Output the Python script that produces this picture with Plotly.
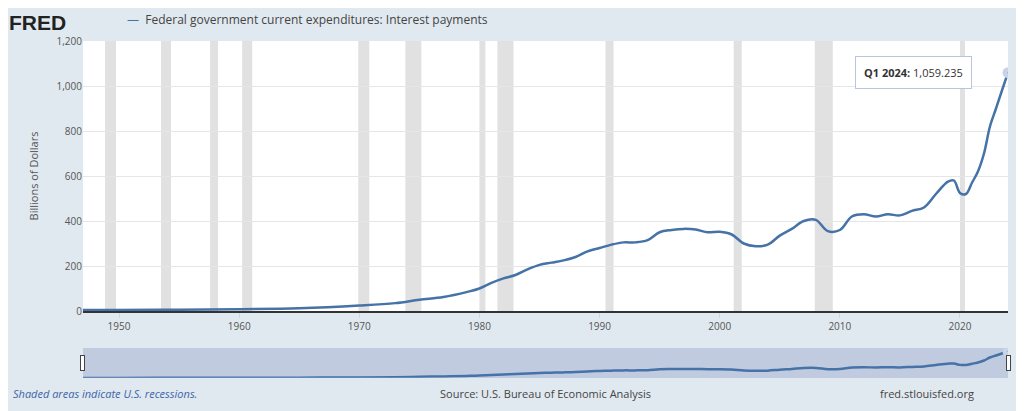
import plotly.graph_objects as go

# annual readings (billions of dollars), last point Q1 2024
dates = ["1947-01-01", "1950-01-01", "1955-01-01", "1960-01-01", "1965-01-01", "1970-01-01",
         "1973-01-01", "1975-01-01", "1977-01-01", "1979-01-01", "1980-01-01", "1981-01-01",
         "1982-01-01", "1983-01-01", "1984-01-01", "1985-01-01", "1986-01-01", "1987-01-01",
         "1988-01-01", "1989-01-01", "1990-01-01", "1991-01-01", "1992-01-01", "1993-01-01",
         "1994-01-01", "1995-01-01", "1996-01-01", "1997-01-01", "1998-01-01", "1999-01-01",
         "2000-01-01", "2001-01-01", "2002-01-01", "2003-01-01", "2004-01-01", "2005-01-01",
         "2006-01-01", "2007-01-01", "2008-01-01", "2009-01-01", "2010-01-01", "2011-01-01",
         "2012-01-01", "2013-01-01", "2014-01-01", "2015-01-01", "2016-01-01", "2017-01-01",
         "2018-01-01", "2019-01-01", "2019-07-01", "2020-01-01", "2020-07-01", "2021-01-01",
         "2021-07-01", "2022-01-01", "2022-07-01", "2023-01-01", "2023-07-01", "2024-01-01"]
values = [4, 4.5, 5.5, 8, 12, 24,
          35, 50, 62, 85, 100, 125,
          145, 160, 185, 205, 215, 225,
          240, 265, 280, 295, 305, 305,
          315, 350, 360, 365, 362, 350,
          352, 340, 300, 288, 295, 335,
          365, 400, 405, 355, 360, 420,
          430, 420, 430, 425, 445, 460,
          520, 575, 580, 525, 520, 570,
          620, 700, 820, 900, 980, 1059.235]

recessions = [("1948-11-01", "1949-10-01"), ("1953-07-01", "1954-05-01"), ("1957-08-01", "1958-04-01"),
              ("1960-04-01", "1961-02-01"), ("1969-12-01", "1970-11-01"), ("1973-11-01", "1975-03-01"),
              ("1980-01-01", "1980-07-01"), ("1981-07-01", "1982-11-01"), ("1990-07-01", "1991-03-01"),
              ("2001-03-01", "2001-11-01"), ("2007-12-01", "2009-06-01"), ("2020-01-01", "2020-06-01")]

fig = go.Figure()
fig.add_trace(go.Scatter(x=dates, y=values, mode="lines", line=dict(color="#4572a7", width=2.5),
                         line_shape="spline", showlegend=False))
fig.add_trace(go.Scatter(x=[dates[-1]], y=[values[-1]], mode="markers",
                         marker=dict(color="#4572a7", size=5, line=dict(color="#c8d3e6", width=6)),
                         showlegend=False))

for a, b in recessions:
    fig.add_vrect(x0=a, x1=b, fillcolor="#e1e1e1", line_width=0, layer="below")

fig.add_annotation(x=dates[-1], y=values[-1], xshift=-95, yshift=0,
                   text="<b>Q1 2024:</b> 1,059.235", showarrow=False,
                   bgcolor="white", bordercolor="#b7c6dc", borderwidth=1, borderpad=8,
                   font=dict(size=11, color="#333"))

fig.add_annotation(xref="paper", yref="paper", x=-0.082, y=1.12, xanchor="left",
                   text="<b>FRED</b>", showarrow=False,
                   font=dict(size=21, color="#222", family="Liberation Sans"))
fig.add_annotation(xref="paper", yref="paper", x=0.045, y=1.12, xanchor="left",
                   text="<span style='color:#4572a7'>—</span>  Federal government current expenditures: Interest payments",
                   showarrow=False, font=dict(size=12, color="#444"))
fig.add_annotation(xref="paper", yref="paper", x=-0.078, y=-0.34, xanchor="left",
                   text="<i>Shaded areas indicate U.S. recessions.</i>", showarrow=False,
                   font=dict(size=11, color="#3c64a8"))
fig.add_annotation(xref="paper", yref="paper", x=0.5, y=-0.34,
                   text="Source: U.S. Bureau of Economic Analysis", showarrow=False,
                   font=dict(size=11, color="#444"))
fig.add_annotation(xref="paper", yref="paper", x=0.965, y=-0.34, xanchor="right",
                   text="fred.stlouisfed.org", showarrow=False, font=dict(size=11, color="#444"))

fig.update_layout(
    width=1024, height=411, paper_bgcolor="#e1e9f0", plot_bgcolor="white",
    margin=dict(l=75, r=24, t=33, b=108, autoexpand=False),
    font=dict(family="Open Sans", size=10, color="#555"),
    xaxis=dict(range=["1947-01-01", "2024-01-01"], showgrid=False, dtick="M120", tickformat="%Y",
               ticks="outside", ticklen=5, tickcolor="#ccd6eb", showline=True, linecolor="#333", linewidth=2,
               rangeslider=dict(visible=True, thickness=0.11, bgcolor="#c0cbe0", bordercolor="#c0cbe0",
                                range=["1947-01-01", "2024-01-01"])),
    yaxis=dict(range=[0, 1200], dtick=200, tickformat=",", gridcolor="#e6e6e6", zeroline=False,
               title=dict(text="Billions of Dollars", font=dict(size=11, color="#555"))),
)

fig.write_html("out.html")
